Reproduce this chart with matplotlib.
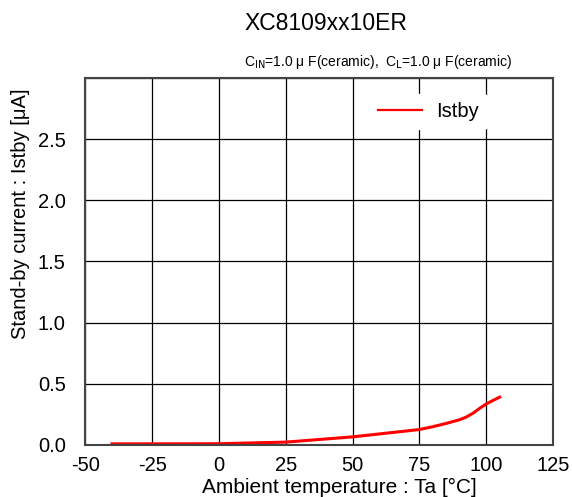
import matplotlib.pyplot as plt

plt.rcParams['font.family'] = ['Liberation Sans', 'DejaVu Sans']
plt.rcParams['axes.unicode_minus'] = False

# Istby vs ambient temperature
ta = [-40, -25, 0, 25, 50, 62.5, 75, 80, 85, 90, 92.5, 95, 97.5, 100, 105]
istby = [0.008, 0.008, 0.009, 0.022, 0.065, 0.095, 0.125, 0.148, 0.175, 0.205,
         0.227, 0.258, 0.298, 0.335, 0.39]

xticks = [-50, -25, 0, 25, 50, 75, 100, 125]
yticks = [0.0, 0.5, 1.0, 1.5, 2.0, 2.5, 3.0]
ylabels = ["0.0", "0.5", "1.0", "1.5", "2.0", "2.5", ""]

fig = plt.figure(figsize=(5.72, 4.97), dpi=100)
ax = fig.add_axes([0.149, 0.105, 0.818, 0.738])

ax.plot(ta, istby, color="red", lw=2.2, label="Istby")

ax.set_xlim(-50, 125)
ax.set_ylim(0, 3.0)
ax.set_xticks(xticks)
ax.set_yticks(yticks)
ax.set_yticklabels(ylabels)
ax.grid(True, color="black", lw=0.9)
ax.tick_params(length=0, labelsize=14.5)
ax.tick_params(axis="y", pad=14)
ax.tick_params(axis="x", pad=8)
for s in ax.spines.values():
    s.set_color("#444444")
    s.set_linewidth(1.5)

fig.text(0.593, 0.02, "Ambient temperature : Ta [°C]", ha="center",
         va="center", fontsize=15)
fig.text(0.035, 0.57, "Stand-by current : Istby [μA]", rotation=90,
         ha="center", va="center", fontsize=14.5)

leg = ax.legend(loc="upper right", frameon=True, fontsize=14.5,
                bbox_to_anchor=(0.88, 0.985), handlelength=2.2,
                handletextpad=0.7)
leg.get_frame().set_edgecolor("white")
leg.get_frame().set_alpha(1)
leg.get_lines()[0].set_linewidth(1.6)

fig.text(0.57, 0.952, "XC8109xx10ER", ha="center", va="center", fontsize=16.5)
fig.text(0.661, 0.875, r"C$_{\rm IN}$=1.0 μ F(ceramic),  C$_{\rm L}$=1.0 μ F(ceramic)",
         ha="center", va="center", fontsize=10)

fig.savefig("out.png", dpi=100)
